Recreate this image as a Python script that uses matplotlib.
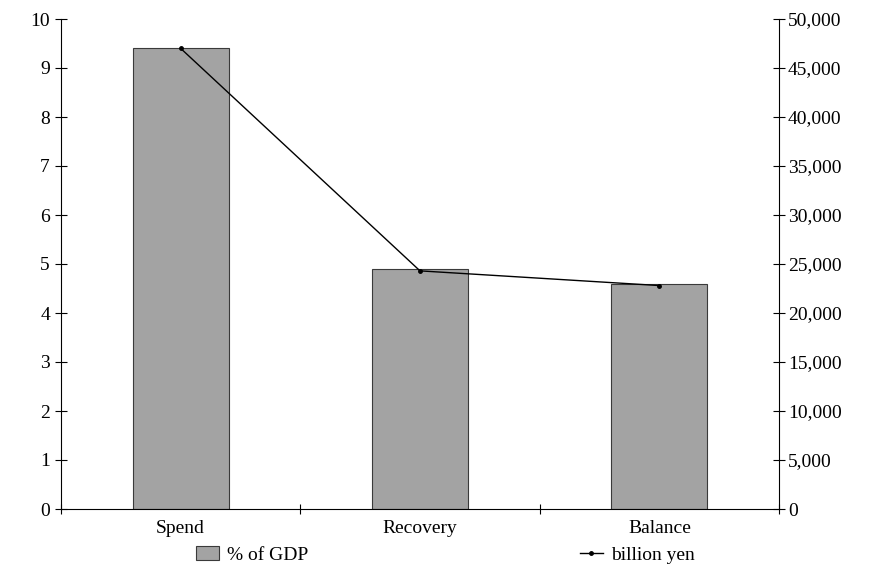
import numpy as np
import matplotlib.pyplot as plt

categories = ["Spend", "Recovery", "Balance"]
pct_gdp = [9.4, 4.9, 4.6]
billion_yen = [47000, 24300, 22800]

plt.rcParams["font.family"] = ["Liberation Serif", "DejaVu Serif"]
plt.rcParams["font.size"] = 14

fig = plt.figure(figsize=(8.74, 5.69), dpi=100)
ax = fig.add_axes([61 / 874, 1 - 509 / 569, 718 / 874, 490 / 569])

x = np.arange(len(categories)) + 0.5
bars = ax.bar(x, pct_gdp, width=0.4, color="#a3a3a3", edgecolor="#3a3a3a",
              linewidth=0.8, label="% of GDP")
ax.set_xlim(0, 3)
ax.set_ylim(0, 10)
ax.set_yticks(range(0, 11))
ax.set_xticks([0, 1, 2, 3])
ax.set_xticklabels([])
ax.set_xticks(x, minor=True)
ax.set_xticklabels(categories, minor=True)
ax.tick_params(axis="x", which="minor", length=0, pad=8, labelsize=14)
ax.tick_params(axis="x", which="major", direction="inout", length=7)
ax.tick_params(axis="y", direction="inout", length=9, labelsize=14)
for s in ["top", "right"]:
    ax.spines[s].set_visible(False)

ax2 = ax.twinx()
line, = ax2.plot(x, billion_yen, color="black", lw=1, marker="o", ms=2.5,
                 label="billion yen")
ax2.set_ylim(0, 50000)
ax2.set_yticks(range(0, 50001, 5000))
ax2.set_yticklabels([f"{v:,}" for v in range(0, 50001, 5000)])
ax2.tick_params(axis="y", direction="inout", length=9, labelsize=14, pad=2)
for s in ["top", "left", "bottom"]:
    ax2.spines[s].set_visible(False)

fig.legend(handles=[bars], loc="center left", bbox_to_anchor=(188 / 874, 1 - 555 / 569),
           frameon=False, handlelength=1.2, handletextpad=0.4, borderaxespad=0,
           fontsize=14)
fig.legend(handles=[line], loc="center left", bbox_to_anchor=(572 / 874, 1 - 555 / 569),
           frameon=False, handlelength=1.2, handletextpad=0.4, borderaxespad=0,
           fontsize=14)

fig.savefig("out.png", dpi=100)
